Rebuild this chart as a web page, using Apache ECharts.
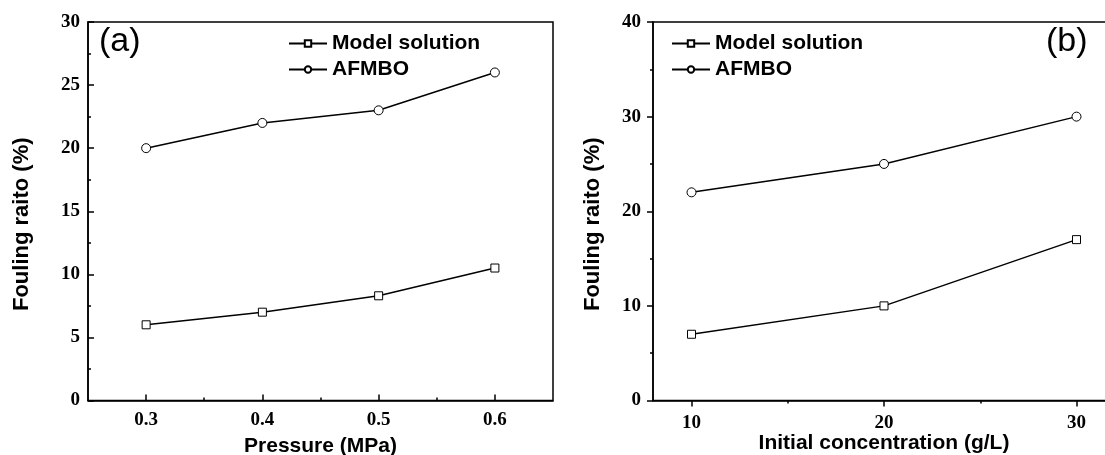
<!DOCTYPE html>
<html>
<head>
<meta charset="utf-8">
<script src="https://cdn.jsdelivr.net/npm/echarts@6/dist/echarts.min.js"></script>
<style>
  html, body { margin: 0; padding: 0; background: #fff; }
  #chart { width: 1105px; height: 455px; }
</style>
</head>
<body>
<div id="chart"></div>
<script>
// Panel (a): fouling ratio against operating pressure
const pressure = [0.3, 0.4, 0.5, 0.6];
const pressureModel = [6, 7, 8.3, 10.5];
const pressureAfmbo = [20, 22, 23, 26];
const pressureTicks = [0.3, 0.4, 0.5, 0.6];
const pressureMinorTicks = [0.35, 0.45, 0.55];

// Panel (b): fouling ratio against initial concentration
const concentration = [10, 20, 30];
const concModel = [7, 10, 17];
const concAfmbo = [22, 25, 30];
const concTicks = [10, 20, 30];
const concMinorTicks = [15, 25];

const seriesNames = ['Model solution', 'AFMBO'];
const panelTags = ['(a)', '(b)'];

const SANS = '"Liberation Sans", Arial, sans-serif';
const SERIF = '"Liberation Serif", "Times New Roman", serif';
const BLACK = '#000';

const pairs = (xs, ys) => xs.map((x, i) => [x, ys[i]]);

const tickLabel = { color: BLACK, fontFamily: SERIF, fontWeight: 'bold', fontSize: 19 };
const titleText = { color: BLACK, fontFamily: SANS, fontWeight: 'bold', fontSize: 21 };
const axisLine = { show: true, onZero: false, lineStyle: { color: BLACK, width: 1.5 } };

function majorX(grid, min, max, interval, ticks, inside, fmt, name, nameGap, margin) {
  return {
    gridIndex: grid, type: 'value', min, max, interval, position: 'bottom',
    axisLine,
    axisTick: { show: true, inside, length: 6, customValues: ticks, lineStyle: { color: BLACK, width: 1.5 } },
    axisLabel: { show: true, customValues: ticks, formatter: fmt, margin, ...tickLabel },
    splitLine: { show: false },
    name, nameLocation: 'middle', nameGap, nameMoveOverlap: false, nameTextStyle: titleText
  };
}
function minorX(grid, min, max, interval, ticks, inside) {
  return {
    gridIndex: grid, type: 'value', min, max, interval, position: 'bottom',
    axisLine: { show: false },
    axisTick: { show: true, inside, length: 3, customValues: ticks, lineStyle: { color: BLACK, width: 1.5 } },
    axisLabel: { show: false },
    splitLine: { show: false }
  };
}
function yAxis(grid, max, interval, inside, margin, nameGap) {
  return {
    gridIndex: grid, type: 'value', min: 0, max, interval,
    axisLine,
    axisTick: { show: true, inside, length: 6, lineStyle: { color: BLACK, width: 1.5 } },
    minorTick: { show: true, splitNumber: 2, length: 3, lineStyle: { color: BLACK, width: 1.5 } },
    axisLabel: { margin, ...tickLabel },
    splitLine: { show: false },
    minorSplitLine: { show: false },
    name: 'Fouling raito (%)', nameLocation: 'middle', nameGap, nameMoveOverlap: false,
    nameTextStyle: { ...titleText, fontSize: 22, padding: [0, 26, 0, 0] }
  };
}
function lineSeries(name, symbol, size, xi, yi, data) {
  return {
    name, type: 'line', xAxisIndex: xi, yAxisIndex: yi, data,
    symbol, symbolSize: size, showAllSymbol: true,
    lineStyle: { color: BLACK, width: 1.5 },
    itemStyle: { color: '#fff', borderColor: BLACK, borderWidth: 1 },
    emphasis: { disabled: true }
  };
}
function legend(left) {
  return {
    left, top: 33, orient: 'vertical', padding: 0,
    itemWidth: 38, itemHeight: 8, itemGap: 5,
    data: seriesNames, selectedMode: false,
    textStyle: { color: BLACK, fontFamily: SANS, fontWeight: 'bold', fontSize: 21 }
  };
}

const chart = echarts.init(document.getElementById('chart'));
chart.setOption({
  animation: false,
  backgroundColor: '#fff',
  grid: [
    { left: 88, top: 22, width: 465, bottom: 54.5, outerBoundsMode: 'none', containLabel: false,
      show: true, borderColor: BLACK, borderWidth: 1.5 },
    { left: 653, top: 22, right: -10, bottom: 54.5, outerBoundsMode: 'none', containLabel: false,
      show: true, borderColor: BLACK, borderWidth: 1.5 }
  ],
  xAxis: [
    majorX(0, 0.25, 0.65, 0.05, pressureTicks, true, v => v.toFixed(1), 'Pressure (MPa)', 35, 10),
    minorX(0, 0.25, 0.65, 0.05, pressureMinorTicks, true),
    majorX(1, 8, 32, 2, concTicks, false, v => String(v), 'Initial concentration (g/L)', 32, 13),
    minorX(1, 8, 32, 2, concMinorTicks, false)
  ],
  yAxis: [
    yAxis(0, 30, 5, true, 8, 55),
    yAxis(1, 40, 10, false, 12, 49)
  ],
  legend: [legend(288), legend(671)],
  series: [
    lineSeries(seriesNames[0], 'rect', 8, 0, 0, pairs(pressure, pressureModel)),
    lineSeries(seriesNames[1], 'circle', 9, 0, 0, pairs(pressure, pressureAfmbo)),
    lineSeries(seriesNames[0], 'rect', 8, 2, 1, pairs(concentration, concModel)),
    lineSeries(seriesNames[1], 'circle', 9, 2, 1, pairs(concentration, concAfmbo))
  ],
  graphic: [
    { type: 'text', left: 99, top: 25, style: { text: panelTags[0], fill: BLACK, font: '34px ' + SANS } },
    { type: 'text', left: 1046, top: 25, style: { text: panelTags[1], fill: BLACK, font: '34px ' + SANS } }
  ]
});
</script>
</body>
</html>
